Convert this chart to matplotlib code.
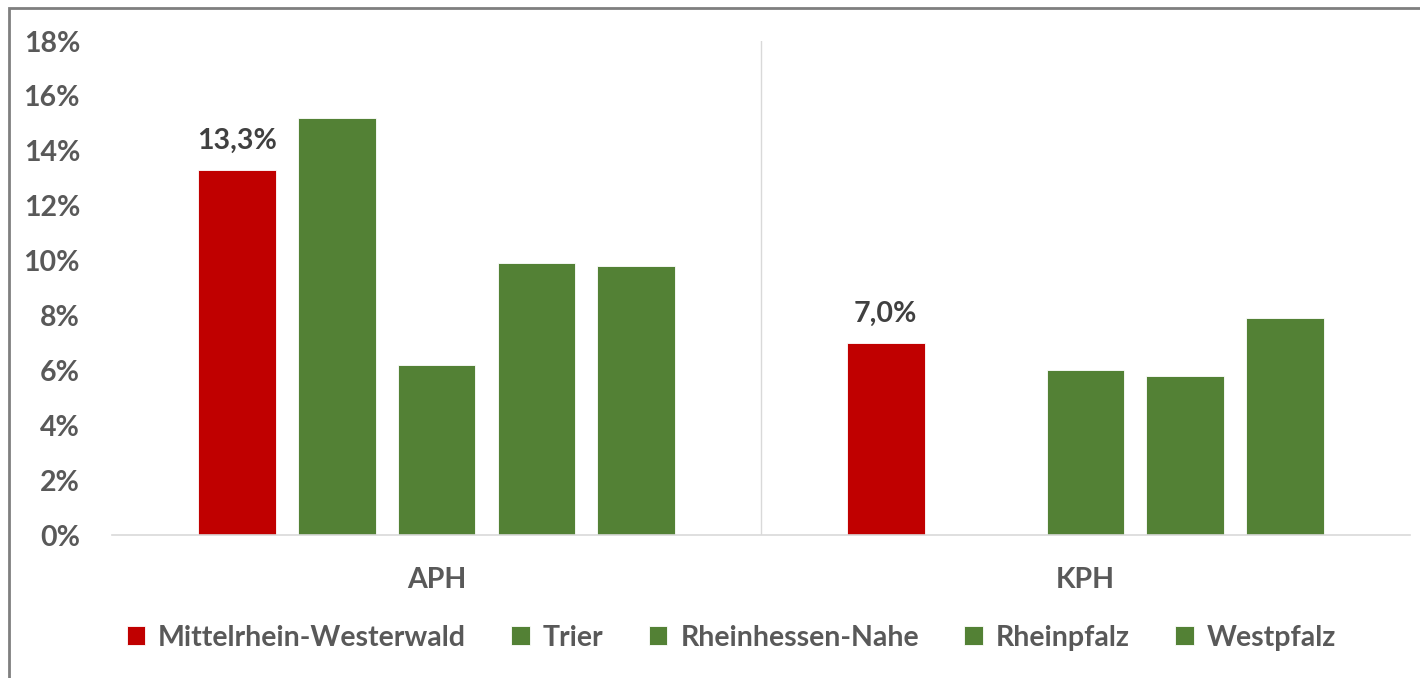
import matplotlib.pyplot as plt
from matplotlib.patches import Rectangle
from matplotlib.ticker import FuncFormatter
import numpy as np

# Anteile je Region und Einrichtungsart
groups = ['APH', 'KPH']
regions = ['Mittelrhein-Westerwald', 'Trier', 'Rheinhessen-Nahe', 'Rheinpfalz', 'Westpfalz']
aph = [13.3, 15.2, 6.2, 9.9, 9.8]
kph = [7.0, None, 6.0, 5.8, 7.9]
colors = ['#c00000', '#538135', '#538135', '#538135', '#538135']
labelled = [0]  # only the first series carries value labels

plt.rcParams['font.family'] = ['Lato', 'DejaVu Sans']
fs = 20.5

fig = plt.figure(figsize=(14.2, 6.78), dpi=100)
ax = fig.add_axes([0.0789, 0.2109, 0.914, 0.7286])

# grey frame around the whole chart
fig.patches.append(Rectangle((9 / 1420, -0.05), 1.2, 1 - 8 / 678 + 0.05,
                             transform=fig.transFigure, fill=False,
                             edgecolor='#7f7f7f', linewidth=2))

centers = np.array([0.5, 1.5])
step = 0.154
width = 0.12
for i, name in enumerate(regions):
    vals = [aph[i], kph[i]]
    for g, v in enumerate(vals):
        if v is None:
            continue
        x = centers[g] + (i - 2) * step
        ax.bar(x, v, width, color=colors[i], edgecolor='white', linewidth=0.6,
               label=name if g == 0 else None)
        if i in labelled:
            ax.text(x, v + 0.6, f'{v:.1f}%'.replace('.', ','), ha='center',
                    va='bottom', fontsize=fs, fontweight='bold', color='#404040')

ax.set_xlim(0, 2)
ax.set_ylim(0, 18)
ax.set_yticks(np.arange(0, 19, 2))
ax.yaxis.set_major_formatter(FuncFormatter(lambda v, p: f'{v:.0f}%'))
ax.set_xticks(centers)
ax.set_xticklabels(groups)
ax.tick_params(axis='y', length=0, pad=23, labelsize=fs, labelcolor='#595959')
ax.tick_params(axis='x', length=0, pad=23, labelsize=fs, labelcolor='#595959')
for lab in ax.get_yticklabels() + ax.get_xticklabels():
    lab.set_fontweight('bold')

for s in ['top', 'right', 'left']:
    ax.spines[s].set_visible(False)
ax.spines['bottom'].set_color('#d9d9d9')
ax.spines['bottom'].set_linewidth(1.2)
ax.axvline(1, color='#d9d9d9', linewidth=1)

leg = fig.legend(loc='center', bbox_to_anchor=(0.515, 0.059), ncol=5,
                 frameon=False, handlelength=0.65, handleheight=0.65,
                 handletextpad=0.45, columnspacing=1.6,
                 prop={'size': fs, 'weight': 'bold'})
for t in leg.get_texts():
    t.set_color('#595959')

fig.savefig('out.png', dpi=100)
